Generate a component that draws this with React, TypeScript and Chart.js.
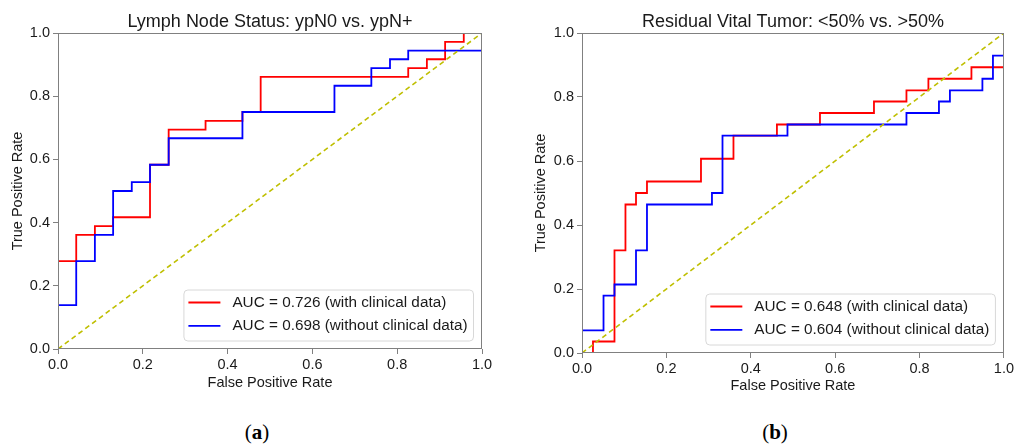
import React, { useEffect, useRef } from "react";
import { Chart, registerables } from "chart.js";

Chart.register(...registerables);

// ---------- Data ----------
// (a) Lymph Node Status: ypN0 vs. ypN+
const lnRedFpr = [0, 0, 0.043, 0.043, 0.087, 0.087, 0.13, 0.13, 0.217, 0.217, 0.261, 0.261, 0.348, 0.348, 0.435, 0.435, 0.478, 0.478, 0.826, 0.826, 0.87, 0.87, 0.913, 0.913, 0.957, 0.957, 1.0];
const lnRedTpr = [0, 0.278, 0.278, 0.361, 0.361, 0.389, 0.389, 0.417, 0.417, 0.583, 0.583, 0.694, 0.694, 0.722, 0.722, 0.75, 0.75, 0.861, 0.861, 0.889, 0.889, 0.917, 0.917, 0.972, 0.972, 1.0, 1.0];
const lnBlueFpr = [0, 0, 0.043, 0.043, 0.087, 0.087, 0.13, 0.13, 0.174, 0.174, 0.217, 0.217, 0.261, 0.261, 0.435, 0.435, 0.652, 0.652, 0.739, 0.739, 0.783, 0.783, 0.826, 0.826, 1.0, 1.0];
const lnBlueTpr = [0, 0.139, 0.139, 0.278, 0.278, 0.361, 0.361, 0.5, 0.5, 0.528, 0.528, 0.583, 0.583, 0.667, 0.667, 0.75, 0.75, 0.833, 0.833, 0.889, 0.889, 0.917, 0.917, 0.944, 0.944, 1.0];

// (b) Residual Vital Tumor: <50% vs. >50%
const rvRedFpr = [0, 0.026, 0.026, 0.077, 0.077, 0.103, 0.103, 0.128, 0.128, 0.154, 0.154, 0.282, 0.282, 0.359, 0.359, 0.462, 0.462, 0.564, 0.564, 0.692, 0.692, 0.769, 0.769, 0.821, 0.821, 0.923, 0.923, 1.0, 1.0];
const rvRedTpr = [0, 0, 0.036, 0.036, 0.321, 0.321, 0.464, 0.464, 0.5, 0.5, 0.536, 0.536, 0.607, 0.607, 0.679, 0.679, 0.714, 0.714, 0.75, 0.75, 0.786, 0.786, 0.821, 0.821, 0.857, 0.857, 0.893, 0.893, 1.0];
const rvBlueFpr = [0, 0, 0.051, 0.051, 0.077, 0.077, 0.128, 0.128, 0.154, 0.154, 0.308, 0.308, 0.333, 0.333, 0.487, 0.487, 0.769, 0.769, 0.846, 0.846, 0.872, 0.872, 0.949, 0.949, 0.974, 0.974, 1.0, 1.0];
const rvBlueTpr = [0, 0.071, 0.071, 0.179, 0.179, 0.214, 0.214, 0.321, 0.321, 0.464, 0.464, 0.5, 0.5, 0.679, 0.679, 0.714, 0.714, 0.75, 0.75, 0.786, 0.786, 0.821, 0.821, 0.857, 0.857, 0.929, 0.929, 1.0];

const chanceX = [0, 1];
const chanceY = [0, 1];

const titles = ["Lymph Node Status: ypN0 vs. ypN+", "Residual Vital Tumor: <50% vs. >50%"];
const lnLabels = ["AUC = 0.726 (with clinical data)", "AUC = 0.698 (without clinical data)"];
const rvLabels = ["AUC = 0.648 (with clinical data)", "AUC = 0.604 (without clinical data)"];
const xTitle = "False Positive Rate";
const yTitle = "True Positive Rate";
const panelLetters = ["a", "b"];

// ---------- Styling ----------
const FONT = "'Liberation Sans', Arial, sans-serif";
const TEXT = "#1a1a1a";
const AXIS = "#808080";
const RED = "#ff0000";
const BLUE = "#0000ff";
const CHANCE = "#bfbf00";

const xy = (xs: number[], ys: number[]) => xs.map((x, i) => ({ x, y: ys[i] }));

const framePlugin = {
  id: "frame",
  afterDatasetsDraw(chart: any) {
    const { ctx, chartArea: a } = chart;
    ctx.save();
    ctx.strokeStyle = AXIS;
    ctx.lineWidth = 1;
    const l = Math.round(a.left) + 0.5;
    const t = Math.round(a.top) + 0.5;
    const r = Math.round(a.right) - 0.5;
    const b = Math.round(a.bottom) - 0.5;
    ctx.strokeRect(l, t, r - l, b - t);
    ctx.restore();
  },
};

const legendPlugin = {
  id: "rocLegend",
  afterDraw(chart: any, _args: any, opts: any) {
    const { ctx, chartArea: a } = chart;
    const items = opts.items || [];
    ctx.save();
    ctx.font = `15.3px ${FONT}`;
    const textW = Math.max(...items.map((it: any) => ctx.measureText(it.label).width));
    const padL = 4.5, lineLen = 32, gap = 12, padR = 6;
    const w = padL + lineLen + gap + textW + padR;
    const h = 51;
    const right = a.right - 8.5;
    const bottom = a.bottom - 8;
    const left = right - w;
    const top = bottom - h;
    const rr = 4;
    ctx.beginPath();
    ctx.moveTo(left + rr, top);
    ctx.lineTo(right - rr, top);
    ctx.quadraticCurveTo(right, top, right, top + rr);
    ctx.lineTo(right, bottom - rr);
    ctx.quadraticCurveTo(right, bottom, right - rr, bottom);
    ctx.lineTo(left + rr, bottom);
    ctx.quadraticCurveTo(left, bottom, left, bottom - rr);
    ctx.lineTo(left, top + rr);
    ctx.quadraticCurveTo(left, top, left + rr, top);
    ctx.closePath();
    ctx.fillStyle = "rgba(255,255,255,0.85)";
    ctx.fill();
    ctx.strokeStyle = "#d8d8d8";
    ctx.lineWidth = 1;
    ctx.stroke();
    items.forEach((it: any, i: number) => {
      const y = top + 12.5 + i * 23.3;
      ctx.beginPath();
      ctx.strokeStyle = it.color;
      ctx.lineWidth = 1.8;
      ctx.moveTo(left + padL, y);
      ctx.lineTo(left + padL + lineLen, y);
      ctx.stroke();
      ctx.fillStyle = TEXT;
      ctx.textBaseline = "middle";
      ctx.textAlign = "left";
      ctx.fillText(it.label, left + padL + lineLen + gap, y);
    });
    ctx.restore();
  },
};

type Panel = {
  title: string;
  redFpr: number[];
  redTpr: number[];
  blueFpr: number[];
  blueTpr: number[];
  labels: string[];
  padLeft: number;
  padRight: number;
  xAxisH: number;
  xTitlePadB: number;
  yTitlePadT: number;
};

function buildConfig(p: Panel): any {
  return {
    type: "line",
    data: {
      datasets: [
        {
          data: xy(chanceX, chanceY),
          borderColor: CHANCE,
          borderDash: [5, 3.5],
          borderWidth: 1.6,
          pointRadius: 0,
          fill: false,
        },
        {
          data: xy(p.blueFpr, p.blueTpr),
          borderColor: BLUE,
          borderWidth: 1.8,
          pointRadius: 0,
          fill: false,
        },
        {
          data: xy(p.redFpr, p.redTpr),
          borderColor: RED,
          borderWidth: 1.8,
          pointRadius: 0,
          fill: false,
        },
      ],
    },
    options: {
      animation: false,
      responsive: false,
      maintainAspectRatio: false,
      events: [],
      layout: { padding: { left: p.padLeft, right: p.padRight, top: 0, bottom: 0 } },
      plugins: {
        legend: { display: false },
        tooltip: { enabled: false },
        title: {
          display: true,
          fullSize: false,
          text: p.title,
          color: TEXT,
          font: { family: FONT, size: 18, weight: "normal", lineHeight: 1.2 },
          padding: { top: 11, bottom: 0.4 },
        },
        rocLegend: {
          items: [
            { label: p.labels[0], color: RED },
            { label: p.labels[1], color: BLUE },
          ],
        },
      },
      scales: {
        x: {
          type: "linear",
          min: 0,
          max: 1,
          ticks: {
            stepSize: 0.2,
            autoSkip: false,
            maxRotation: 0,
            padding: 2,
            color: TEXT,
            font: { family: FONT, size: 14.5 },
            callback: (v: number) => Number(v).toFixed(1),
          },
          grid: { display: true, drawOnChartArea: false, drawTicks: true, tickLength: 5, color: AXIS },
          border: { display: false },
          title: {
            display: true,
            text: xTitle,
            color: TEXT,
            font: { family: FONT, size: 14.5 },
            padding: { top: 0, bottom: p.xTitlePadB },
          },
          afterFit: (s: any) => {
            s.height = p.xAxisH;
          },
        },
        y: {
          type: "linear",
          min: 0,
          max: 1,
          ticks: {
            stepSize: 0.2,
            padding: 3,
            color: TEXT,
            font: { family: FONT, size: 14.5 },
            callback: (v: number) => Number(v).toFixed(1),
          },
          grid: { display: true, drawOnChartArea: false, drawTicks: true, tickLength: 5, color: AXIS },
          border: { display: false },
          title: {
            display: true,
            text: yTitle,
            color: TEXT,
            font: { family: FONT, size: 14.5 },
            padding: { top: p.yTitlePadT, bottom: 0 },
          },
          afterFit: (s: any) => {
            s.width = 58;
          },
        },
      },
    },
    plugins: [framePlugin, legendPlugin],
  };
}

const panelA: Panel = {
  title: titles[0],
  redFpr: lnRedFpr,
  redTpr: lnRedTpr,
  blueFpr: lnBlueFpr,
  blueTpr: lnBlueTpr,
  labels: lnLabels,
  padLeft: 0,
  padRight: 26,
  xAxisH: 51,
  xTitlePadB: 8.6,
  yTitlePadT: 9,
};

const panelB: Panel = {
  title: titles[1],
  redFpr: rvRedFpr,
  redTpr: rvRedTpr,
  blueFpr: rvBlueFpr,
  blueTpr: rvBlueTpr,
  labels: rvLabels,
  padLeft: 16,
  padRight: 10,
  xAxisH: 47,
  xTitlePadB: 5.6,
  yTitlePadT: 8.6,
};

export default function App() {
  const leftRef = useRef<HTMLCanvasElement | null>(null);
  const rightRef = useRef<HTMLCanvasElement | null>(null);

  useEffect(() => {
    const charts: Chart[] = [];
    if (leftRef.current) charts.push(new Chart(leftRef.current, buildConfig(panelA)));
    if (rightRef.current) charts.push(new Chart(rightRef.current, buildConfig(panelB)));
    return () => charts.forEach((c) => c.destroy());
  }, []);

  const letterStyle: React.CSSProperties = {
    position: "absolute",
    top: 421,
    width: 80,
    textAlign: "center",
    fontFamily: "'Liberation Serif', 'DejaVu Serif', serif",
    fontSize: 21,
    lineHeight: "23px",
    color: "#000",
  };

  return (
    <div
      style={{
        position: "absolute",
        left: 0,
        top: 0,
        width: 1016,
        height: 445,
        background: "#fff",
        overflow: "hidden",
      }}
    >
      <canvas ref={leftRef} width={508} height={400} style={{ position: "absolute", left: 0, top: 0 }} />
      <canvas ref={rightRef} width={508} height={400} style={{ position: "absolute", left: 508, top: 0 }} />
      <div style={{ ...letterStyle, left: 257 - 40 }}>
        (<b>{panelLetters[0]}</b>)
      </div>
      <div style={{ ...letterStyle, left: 775 - 40 }}>
        (<b>{panelLetters[1]}</b>)
      </div>
    </div>
  );
}
